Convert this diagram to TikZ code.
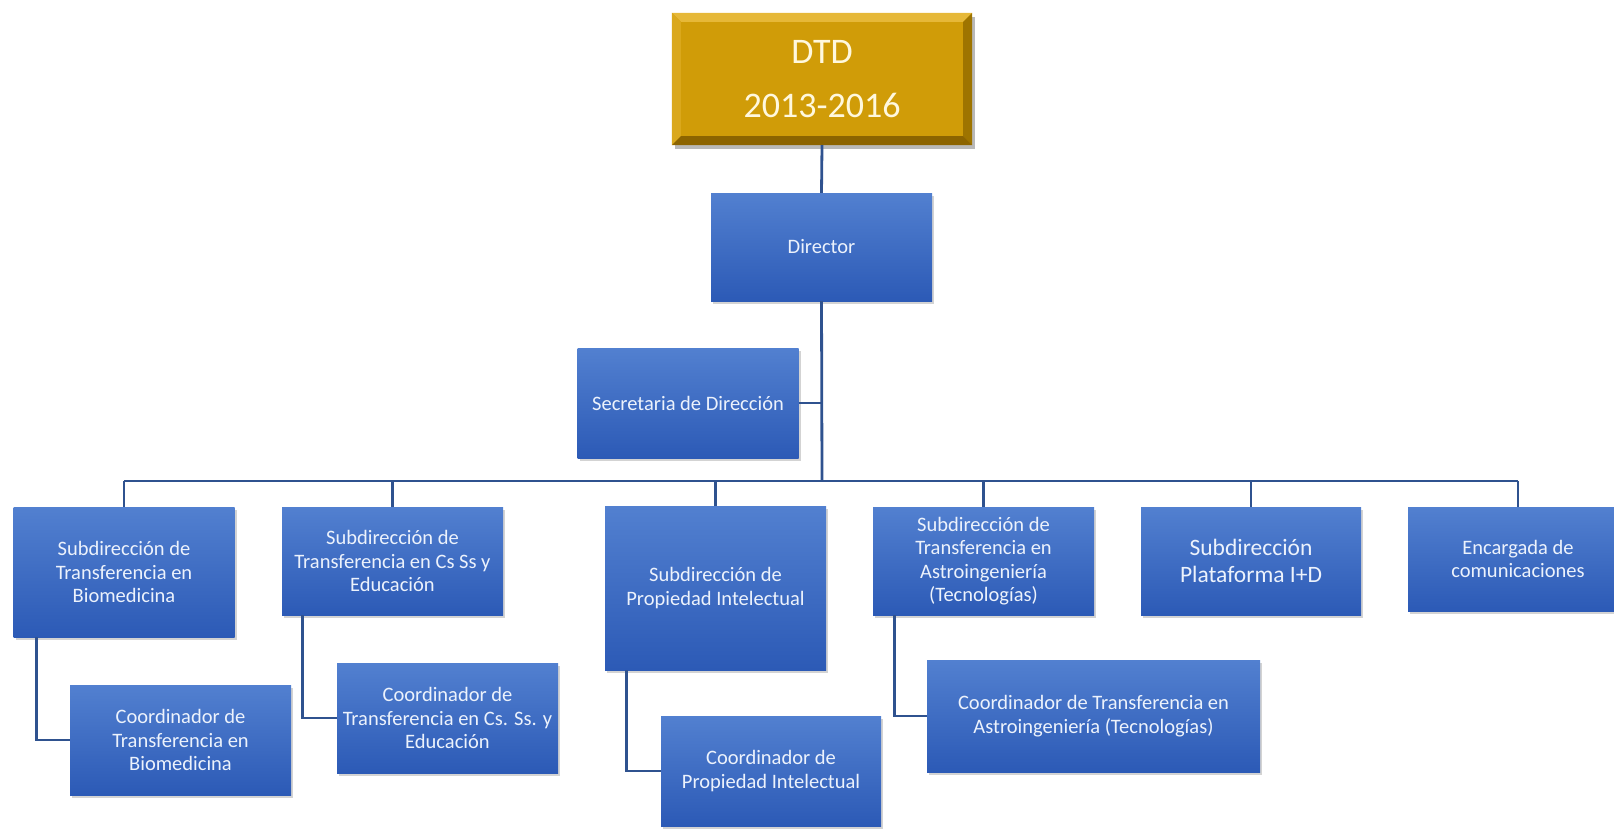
\documentclass[tikz,border=0pt]{standalone}
\usepackage{fontspec}
\setmainfont{Carlito}
\usepackage{tikz}
\usetikzlibrary{shadows,calc}
\definecolor{boxtop}{RGB}{82,128,208}
\definecolor{boxbottom}{RGB}{44,90,182}
\definecolor{boxtext}{RGB}{236,242,252}
\definecolor{goldface}{RGB}{208,156,8}
\definecolor{goldlight}{RGB}{230,184,56}
\definecolor{goldmid}{RGB}{218,168,28}
\definecolor{golddark}{RGB}{158,116,0}
\definecolor{golddeep}{RGB}{140,100,0}
\definecolor{goldtext}{RGB}{255,248,222}
\definecolor{linkblue}{RGB}{47,82,143}
\tikzset{
  orgnode/.style = {align=center, inner sep=0pt, text centered},
  unit/.style = {orgnode, rectangle, top color=boxtop, bottom color=boxbottom, text=boxtext,
    minimum width=221pt, minimum height=108pt,
    font=\fontsize{20.5}{23.5}\selectfont,
    drop shadow={shadow xshift=2pt, shadow yshift=-3pt, opacity=0.35}},
  unit_big/.style = {unit, font=\fontsize{23.5}{27}\selectfont},
  unit_gold/.style = {orgnode, rectangle, fill=goldface, text=goldtext,
    minimum width=300pt, minimum height=132pt,
    font=\fontsize{36}{54}\selectfont,
    drop shadow={shadow xshift=3pt, shadow yshift=-4pt, opacity=0.55}},
  link/.style = {draw=linkblue, line width=2.8pt},
}
\begin{document}
\begin{tikzpicture}[x=1pt, y=-1pt]
  \useasboundingbox (0,0) rectangle (1614,832);
  % top of the chart
  \node [unit_gold] (dtd) at (822,79) {DTD\\2013-2016};
  % bevel of the gold box
  \fill [goldlight] (dtd.north west) -- (dtd.north east) -- ($(dtd.north east)+(-9,9)$) -- ($(dtd.north west)+(9,9)$) -- cycle;
  \fill [goldmid] (dtd.north west) -- ($(dtd.north west)+(9,9)$) -- ($(dtd.south west)+(9,-9)$) -- (dtd.south west) -- cycle;
  \fill [golddark] (dtd.north east) -- (dtd.south east) -- ($(dtd.south east)+(-9,-9)$) -- ($(dtd.north east)+(-9,9)$) -- cycle;
  \fill [golddeep] (dtd.south west) -- ($(dtd.south west)+(9,-9)$) -- ($(dtd.south east)+(-9,-9)$) -- (dtd.south east) -- cycle;
  \node [unit] (director) at (821.5,247) {Director};
  \node [unit, minimum height=110pt] (secretaria) at (688,403) {Secretaria de Dirección};
  \coordinate (bus) at (822,481);
  % subdirecciones
  \node [unit, minimum height=130pt] (sub_bio) at (124,572) {Subdirección de\\Transferencia en\\Biomedicina};
  \node [unit] (sub_cs) at (392.5,561) {Subdirección de\\Transferencia en Cs Ss y\\Educación};
  \node [unit, minimum height=164pt] (sub_pi) at (715.5,588) {Subdirección de\\Propiedad Intelectual};
  \node [unit] (sub_astro) at (983.5,561) {Subdirección de\\Transferencia en\\Astroingeniería\\(Tecnologías)};
  \node [unit_big, minimum width=220pt] (sub_plat) at (1251,561) {Subdirección\\Plataforma I+D};
  \node [unit, minimum width=220pt, minimum height=104pt] (encargada) at (1518,559) {Encargada de\\comunicaciones};
  % coordinadores
  \node [unit, minimum height=110pt] (co_bio) at (180.5,740) {Coordinador de\\Transferencia en\\Biomedicina};
  \node [unit, minimum height=110pt] (co_cs) at (447.5,718) {Coordinador de\\Transferencia en Cs. Ss. y\\Educación};
  \node [unit, minimum width=220pt, minimum height=110pt] (co_pi) at (771,771) {Coordinador de\\Propiedad Intelectual};
  \node [unit, minimum width=333pt, minimum height=112pt] (co_astro) at (1093.5,716) {Coordinador de Transferencia en\\Astroingeniería (Tecnologías)};
  % connectors
  \draw [link] (dtd.south) -- (director.north);
  \draw [link] (director.south) -- (bus);
  \draw [link] (secretaria.east) -- (secretaria.east -| director.south);
  \draw [link] (sub_bio.north |- bus) -- (encargada.north |- bus);
  \draw [link] (sub_bio.north |- bus) -- (sub_bio.north);
  \draw [link] (sub_cs.north |- bus) -- (sub_cs.north);
  \draw [link] (sub_pi.north |- bus) -- (sub_pi.north);
  \draw [link] (sub_astro.north |- bus) -- (sub_astro.north);
  \draw [link] (sub_plat.north |- bus) -- (sub_plat.north);
  \draw [link] (encargada.north |- bus) -- (encargada.north);
  \draw [link] (sub_bio.south west) ++(23,0) |- (co_bio.west);
  \draw [link] (sub_cs.south west) ++(21,0) |- (co_cs.west);
  \draw [link] (sub_pi.south west) ++(22,0) |- (co_pi.west);
  \draw [link] (sub_astro.south west) ++(22,0) |- (co_astro.west);
\end{tikzpicture}
\end{document}
